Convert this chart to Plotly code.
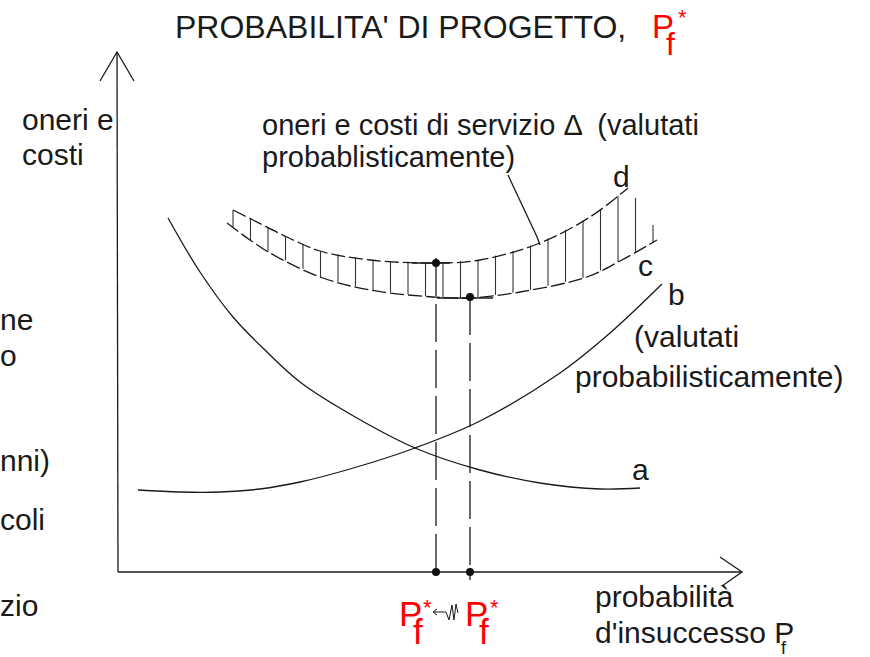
import numpy as np
import plotly.graph_objects as go

W, H = 870, 657
FONT = "Liberation Sans, Arial, sans-serif"
RED = "#ff0000"
INK = "#1a1a1a"

# --- axes (drawing units = pixels, y grows downward) ---
yaxis_x = [118, 117]
yaxis_y = [572, 52]
yhead_x = [100, 117, 134]
yhead_y = [81, 52, 81]
xaxis_x = [118, 742]
xaxis_y = [572, 572]
xhead_x = [720, 742, 722]
xhead_y = [557, 572, 586]

# --- curve a: costs decreasing with Pf ---
a_x = [168, 200, 233, 267, 300, 350, 415, 480, 540, 600, 640]
a_y = [218, 272, 317, 352, 382, 414, 448, 470, 483, 489, 488]

# --- curve b: expected damages (valutati probabilisticamente) ---
b_x = [138, 180, 220, 260, 300, 350, 415, 480, 560, 610, 662]
b_y = [490, 492, 492, 489, 482, 469, 448, 421, 373, 333, 284]

# --- band: upper bound d and lower bound c ---
d_x = [233, 253, 287, 320, 370, 436, 480, 540, 590, 628]
d_y = [210, 220, 237, 251, 260, 263, 260, 243, 217, 188]
c_x = [227, 250, 270, 320, 370, 433, 470, 520, 587, 620, 657]
c_y = [223, 240, 253, 277, 290, 297, 298, 292, 277, 261, 240]

# hatch positions across the band
hatch_x = [233 + 17.5 * k for k in range(25)]
hatch_top_end = [198, 225]   # last two strokes run past the end of d

# --- optima and their projections ---
opt_x = [436, 470]
opt_y = [263, 297]
proj_top = [258, 297]
proj_bottom = [580, 580]
tangent_x = [[412, 450], [437, 493]]
tangent_y = [[263, 263], [298, 298]]

# leader from the label to the band
leader_x = [508, 515, 523, 530, 537, 540]
leader_y = [175, 190, 207, 222, 237, 245]

# small "shift" arrow between the two optima labels
shift_x = [437, 433, 437, None, 433, 446, 449, 452, 454, 456, 458]
shift_y = [609, 612, 615, None, 612, 612, 620, 605, 620, 604, 613]

fig = go.Figure()


def line(x, y, width=1.3, dash="solid", shape="linear", color=INK):
    fig.add_trace(go.Scatter(
        x=x, y=y, mode="lines", hoverinfo="skip", showlegend=False,
        line=dict(color=color, width=width, dash=dash, shape=shape,
                  smoothing=1.0 if shape == "spline" else None),
    ))


# axes
line(yaxis_x, yaxis_y)
line(yhead_x, yhead_y)
line(xaxis_x, xaxis_y)
line(xhead_x, xhead_y)

# cost curves
line(a_x, a_y, shape="spline")
line(b_x, b_y, shape="spline")

# hatching inside the band
hx, hy = [], []
for i, x in enumerate(hatch_x):
    top = float(np.interp(x, d_x, d_y))
    if x > d_x[-1]:
        top = hatch_top_end[i - (len(hatch_x) - len(hatch_top_end))]
    bot = float(np.interp(x, c_x, c_y))
    hx += [x, x, None]
    hy += [top, bot, None]
line(hx, hy, width=1.1, color="#333333")

# band boundaries
line(d_x, d_y, dash="14px,4px", shape="spline")
line(c_x, c_y, dash="14px,4px", shape="spline")

# projections of the optima onto the Pf axis
for x, t, b in zip(opt_x, proj_top, proj_bottom):
    line([x, x], [t, b], dash="38px,8px")
for tx, ty in zip(tangent_x, tangent_y):
    line(tx, ty)

line(leader_x, leader_y, shape="spline")
line(shift_x, shift_y, width=1.0)

fig.add_trace(go.Scatter(
    x=opt_x + opt_x, y=opt_y + [572, 572], mode="markers",
    marker=dict(color="#111111", size=8), hoverinfo="skip", showlegend=False,
))

# --- text ---
texts = [
    # (text, x_left, y_mid, size, color)
    ("PROBABILITA' DI PROGETTO,", 173, 27, 32, INK),
    ("P", 650, 27, 33, RED),
    ("f", 664, 44, 32, RED),
    ("*", 676, 17, 22, RED),
    ("oneri e", 20, 119.5, 30, INK),
    ("costi", 20, 154, 30, INK),
    ("oneri e costi di servizio \u0394  (valutati", 260, 125, 29, INK),
    ("probablisticamente)", 260, 157, 29, INK),
    ("d", 611, 176.5, 30, INK),
    ("c", 636, 265.5, 30, INK),
    ("b", 666, 294.5, 30, INK),
    ("(valutati", 632, 336.5, 30, INK),
    ("probabilisticamente)", 573, 376.5, 30, INK),
    ("a", 630, 469.5, 30, INK),
    ("ne", -2, 319.5, 30, INK),
    ("o", -2, 355.5, 30, INK),
    ("nni)", -2, 460.5, 30, INK),
    ("coli", -2, 519.5, 30, INK),
    ("zio", -2, 605.5, 30, INK),
    ("probabilit\u00e0", 593, 596.5, 30, INK),
    ("d'insuccesso P", 593, 632.5, 30, INK),
    ("f", 779, 648, 18, INK),
    ("P", 397, 613, 35, RED),
    ("f", 411, 631, 35, RED),
    ("*", 421, 607, 22, RED),
    ("P", 463, 613, 35, RED),
    ("f", 477, 631, 35, RED),
    ("*", 488, 607, 22, RED),
]
for t, x, y, s, col in texts:
    fig.add_annotation(
        x=x / W, y=1 - y / H, xref="paper", yref="paper",
        text=t, showarrow=False, xanchor="left", yanchor="middle",
        font=dict(family=FONT, size=s, color=col),
    )

fig.update_layout(
    width=W, height=H,
    margin=dict(l=0, r=0, t=0, b=0),
    paper_bgcolor="white", plot_bgcolor="white",
    xaxis=dict(range=[0, W], visible=False, fixedrange=True),
    yaxis=dict(range=[H, 0], visible=False, fixedrange=True),
    showlegend=False,
)

fig.write_html("out.html")
